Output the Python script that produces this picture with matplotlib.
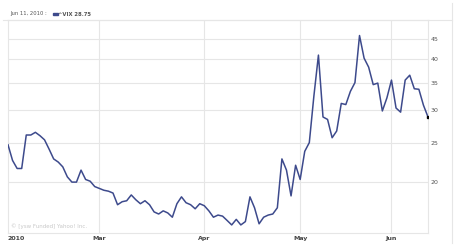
import matplotlib
matplotlib.use('Agg')
import matplotlib.pyplot as plt
import matplotlib.ticker as ticker
from matplotlib.patches import Rectangle

# ^VIX daily closes, Jan 29 2010 .. Jun 11 2010 (one value per trading day)
vix = [24.7, 22.6, 21.6, 21.6, 26.1, 26.1, 26.5, 26.0, 25.4, 24.1,
       22.8, 22.4, 21.8, 20.6, 20.0, 20.0, 21.4, 20.3, 20.1, 19.5,
       19.3, 19.1, 19.0, 18.8, 17.6, 17.9, 18.0, 18.6, 18.1, 17.7,
       18.0, 17.6, 16.9, 16.7, 17.0, 16.8, 16.4, 17.7, 18.4, 17.8,
       17.6, 17.2, 17.7, 17.5, 17.0, 16.4, 16.6, 16.5, 16.1, 15.7,
       16.2, 15.7, 16.0, 18.4, 17.3, 15.8, 16.4, 16.6, 16.7, 17.3,
       22.8, 21.4, 18.5, 22.0, 20.3, 23.8, 25.0, 32.5, 41.0, 28.9,
       28.5, 25.7, 26.7, 31.2, 31.0, 33.4, 35.1, 45.8, 40.3, 38.3,
       34.7, 35.0, 29.9, 32.2, 35.6, 30.4, 29.7, 35.6, 36.6, 33.9,
       33.8, 30.9, 28.9]
days = list(range(len(vix)))

# trading-day index where each month label sits
month_pos = [0, 20, 43, 64, 84]
month_labels = ['2010', 'Mar', 'Apr', 'May', 'Jun']
y_ticks = [20, 25, 30, 35, 40, 45]

grid_col = '#e6e6e6'
line_col = '#3d4a8c'

fig = plt.figure(figsize=(4.55, 2.45), dpi=100)
ax = fig.add_axes([8 / 455, 1 - 233 / 245, 420 / 455, 213 / 245])

ax.plot(days, vix, color=line_col, linewidth=1.1, zorder=3)
ax.plot(days[-1], vix[-1], 's', color='black', markersize=2, zorder=4)

ax.set_yscale('log')
ax.set_ylim(15, 50)
ax.set_xlim(0, len(vix) - 1)

ax.yaxis.tick_right()
ax.set_yticks(y_ticks)
ax.yaxis.set_minor_locator(ticker.NullLocator())
ax.yaxis.set_major_formatter(ticker.FormatStrFormatter('%d'))
ax.tick_params(axis='y', length=0, pad=2, labelsize=4.5, labelcolor='#555555')

ax.set_xticks(month_pos[1:])
ax.set_xticklabels([])
ax.tick_params(axis='x', length=0)
for p, lab in zip(month_pos, month_labels):
    ax.text(p, -0.012, lab, transform=ax.get_xaxis_transform(),
            ha='left' if p == 0 else 'center', va='top',
            fontsize=4.5, color='#444444', fontweight='bold')

ax.grid(True, color=grid_col, linewidth=0.8)
ax.set_axisbelow(True)
for s in ax.spines.values():
    s.set_color(grid_col)
    s.set_linewidth(0.8)

ax.text(0.006, 0.02, '\u00a9 [ysw Funded] Yahoo! Inc.', transform=ax.transAxes,
        fontsize=4, color='#c8c8c8', ha='left', va='bottom')

# header line
fig.text(10 / 455, 1 - 14 / 245, 'Jun 11, 2010 :', fontsize=3.8, color='#555555',
         va='center', ha='left')
fig.patches.append(Rectangle((53 / 455, 1 - 15.5 / 245), 5 / 455, 2.5 / 245,
                             transform=fig.transFigure, color=line_col))
fig.text(58.5 / 455, 1 - 14 / 245, '^VIX 28.75', fontsize=3.8, color='#555555',
         va='center', ha='left', fontweight='bold')

# page frame lines
fig.add_artist(plt.Line2D([3 / 455, 452 / 455], [1 - 20 / 245, 1 - 20 / 245],
                          transform=fig.transFigure, color=grid_col, linewidth=0.8))
fig.add_artist(plt.Line2D([452 / 455, 452 / 455], [1 - 243 / 245, 1 - 3 / 245],
                          transform=fig.transFigure, color=grid_col, linewidth=0.8))

fig.savefig('out.png', dpi=100)
